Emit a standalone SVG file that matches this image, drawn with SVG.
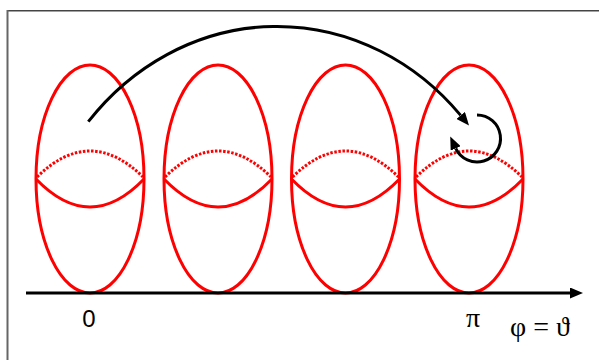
<svg xmlns="http://www.w3.org/2000/svg" width="599" height="360" viewBox="0 0 599 360">
<style>
.ring{fill:none;stroke:#ff0000;stroke-width:3}
.dot{fill:none;stroke:#ff0000;stroke-width:3;stroke-dasharray:2.5 1.6}
.conn{fill:none;stroke:#000;stroke-width:3}
.lbl{font-family:"Liberation Sans",Arial,sans-serif;font-size:24px;fill:#000}
.sym{font-family:"Liberation Serif","Times New Roman",serif;font-size:28px;fill:#000}
</style>
<defs>
<marker id="ah" markerUnits="userSpaceOnUse" markerWidth="13" markerHeight="11" viewBox="0 0 13 11" refX="0" refY="5.5" orient="auto">
<path d="M0,0 L13,5.5 L0,11 z" fill="#000"/>
</marker>
</defs>
<rect x="0" y="0" width="599" height="360" fill="#fff"/>
<g id="frame">
<line x1="7.5" y1="10.8" x2="599" y2="10.8" stroke="#444" stroke-width="1.6"/>
<line x1="7.5" y1="10" x2="7.5" y2="360" stroke="#666" stroke-width="2"/>
</g>
<g id="sphere1">
<ellipse class="ring" cx="90" cy="179" rx="54" ry="114"/>
<path class="ring" d="M36,179 Q90,235 144,179"/>
<path class="dot" d="M37,177 Q90,125 143,177"/>
</g>
<g id="sphere2">
<ellipse class="ring" cx="218" cy="179" rx="54" ry="114"/>
<path class="ring" d="M164,179 Q218,235 272,179"/>
<path class="dot" d="M165,177 Q218,125 271,177"/>
</g>
<g id="sphere3">
<ellipse class="ring" cx="345.5" cy="179" rx="54" ry="114"/>
<path class="ring" d="M291.5,179 Q345.5,235 399.5,179"/>
<path class="dot" d="M292.5,177 Q345.5,125 398.5,177"/>
</g>
<g id="sphere4">
<ellipse class="ring" cx="469" cy="179" rx="54" ry="114"/>
<path class="ring" d="M415,179 Q469,235 523,179"/>
<path class="dot" d="M416,177 Q469,125 522,177"/>
</g>
<g id="connectors">
<line class="conn" x1="26" y1="293" x2="570" y2="293" marker-end="url(#ah)"/>
<path class="conn" d="M88.3,121.7 A249,274 0 0,1 460.7,115.4" marker-end="url(#ah)"/>
<path class="conn" d="M477,115 A23.5,23.5 0 1,1 455.7,148.4" marker-end="url(#ah)"/>
</g>
<g id="labels">
<text class="lbl" x="89" y="326.5" text-anchor="middle">0</text>
<text class="sym" x="473" y="326.7" text-anchor="middle">π</text>
<text class="sym" x="510" y="335.7">φ = ϑ</text>
</g>
</svg>
